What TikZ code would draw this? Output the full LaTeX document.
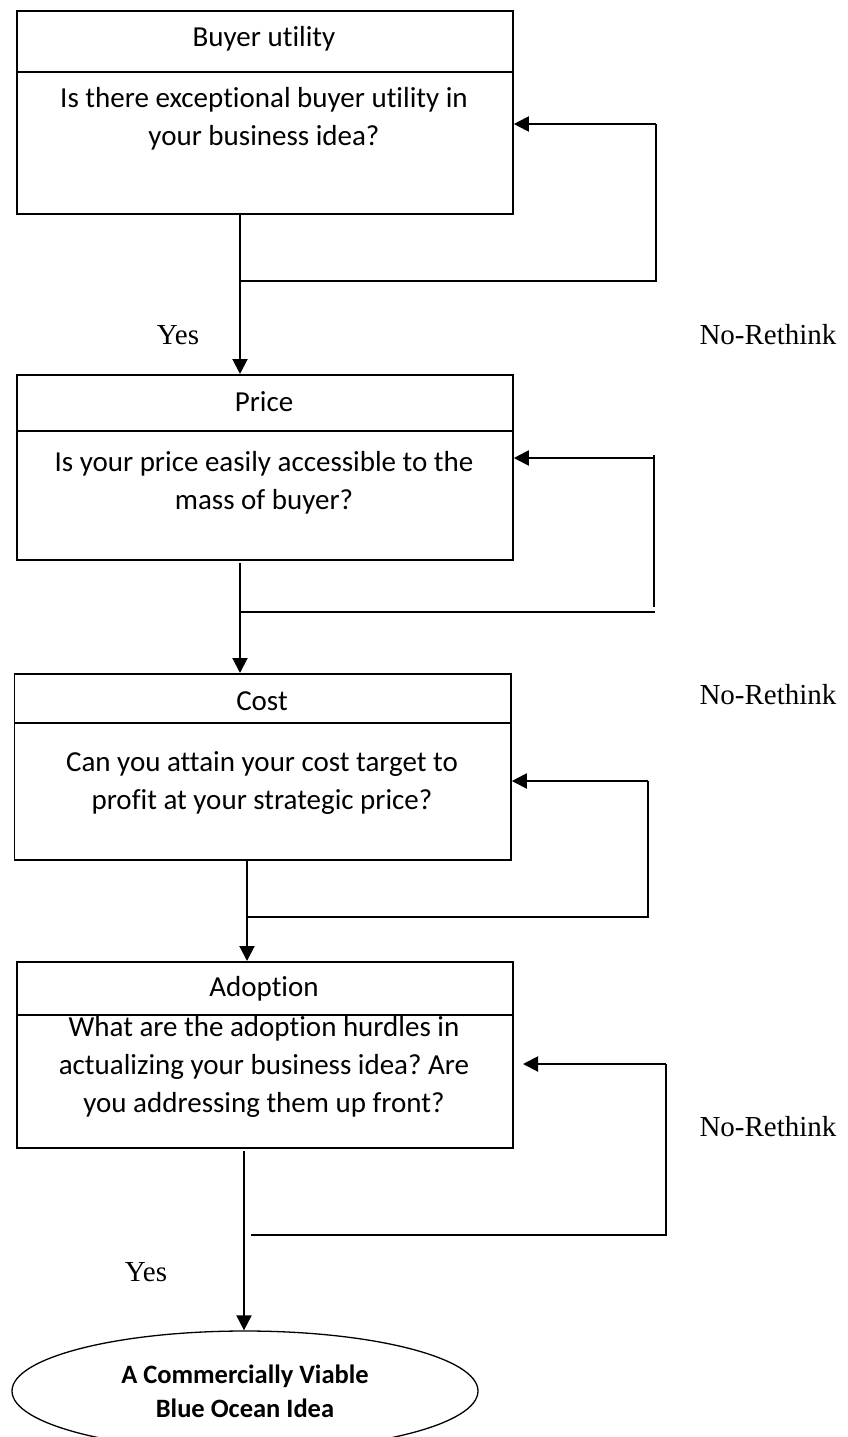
\documentclass[tikz,border=0pt]{standalone}
\usepackage{fontspec}
\setmainfont{Liberation Serif}
\newfontfamily\calibri[Ligatures={NoCommon}]{Carlito}
\usetikzlibrary{arrows.meta,shapes.geometric}
\frenchspacing

\begin{document}
\begin{tikzpicture}[x=1pt,y=-1pt,
  line width=2pt,
  frame/.style={draw, rectangle, line width=1.8pt, inner sep=0pt, anchor=north west},
  headtext/.style={font=\calibri\fontsize{29}{37}\selectfont},
  bodytext/.style={font=\calibri\fontsize{29}{38}\selectfont, align=center, inner sep=0pt},
  lbl/.style={font=\fontsize{29}{34}\selectfont, inner sep=0pt},
  flow/.style={-{Triangle[length=15pt,width=15pt]}},
]
\clip (0,0) rectangle (847,1437);

% ---- Buyer utility ----
\node[frame, minimum width=496pt, minimum height=61pt] (h1) at (16,10) {};
\node[frame, minimum width=496pt, minimum height=142pt] (b1) at (16,71) {};
\node[headtext] (t1) at (264,39) {Buyer utility};
\node[bodytext] (q1) at (264,119) {Is there exceptional buyer utility in\\your business idea?};

% ---- Price ----
\node[frame, minimum width=496pt, minimum height=56pt] (h2) at (16,374) {};
\node[frame, minimum width=496pt, minimum height=129pt] (b2) at (16,430) {};
\node[headtext] (t2) at (264,402) {Price};
\node[bodytext] (q2) at (264,483) {Is your price easily accessible to the\\mass of buyer?};

% ---- Cost ----
\node[frame, minimum width=496.5pt, minimum height=49pt] (h3) at (13.5,673) {};
\node[frame, minimum width=496.5pt, minimum height=137pt] (b3) at (13.5,722) {};
\node[headtext] (t3) at (262,701) {Cost};
\node[bodytext] (q3) at (262,783) {Can you attain your cost target to\\profit at your strategic price?};

% ---- Adoption ----
\node[frame, minimum width=496pt, minimum height=53pt] (h4) at (16,961) {};
\node[frame, minimum width=496pt, minimum height=133pt] (b4) at (16,1014) {};
\node[headtext] (t4) at (264,989) {Adoption};
\node[bodytext] (q4) at (264,1067) {What are the adoption hurdles in\\actualizing your business idea? Are\\you addressing them up front?};

% ---- Outcome ----
\node[draw, ellipse, line width=1.3pt, minimum width=466pt, minimum height=120pt, inner sep=0pt,
      font=\calibri\bfseries\fontsize{26.5}{34}\selectfont, align=center] (e) at (245,1391)
      {A Commercially Viable\\Blue Ocean Idea};

% ---- labels ----
\node[lbl] (y1) at (178,335) {Yes};
\node[lbl] (n1) at (768,335) {No-Rethink};
\node[lbl] (n2) at (768,695) {No-Rethink};
\node[lbl] (n3) at (768,1127) {No-Rethink};
\node[lbl] (y2) at (146,1272) {Yes};

% ---- main flow ----
\coordinate (m1) at (240,281);
\coordinate (m2) at (240,563);
\coordinate (m3) at (247,859);
\coordinate (m4) at (244,1151);
\draw[flow] (m1 |- b1.south) -- (m1 |- h2.north);
\draw[flow] (m2) -- (m2 |- h3.north);
\draw[flow] (m3 |- b3.south) -- (m3 |- h4.north);
\draw[flow] (m4) -- (m4 |- e.north);

% ---- rethink loops ----
\coordinate (r1) at (656,281);
\coordinate (r1t) at (656,124);
\draw (m1) -- (r1) -- (r1t);
\draw[flow] (r1t) -- (r1t -| b1.east);

\coordinate (r2a) at (654,455);
\coordinate (r2b) at (654,607);
\coordinate (r2t) at (654,458);
\coordinate (l2a) at (240,612);
\coordinate (l2b) at (655,612);
\draw (l2a) -- (l2b);
\draw (r2a) -- (r2b);
\draw[flow] (r2t) -- (r2t -| b2.east);

\coordinate (r3t) at (648,781);
\coordinate (r3) at (648,917);
\coordinate (l3) at (247,917);
\draw (l3) -- (r3) -- (r3t);
\draw[flow] (r3t) -- (r3t -| b3.east);

\coordinate (r4t) at (666,1064);
\coordinate (r4) at (666,1235);
\coordinate (l4) at (251,1235);
\coordinate (g4) at (523,1064);
\draw (l4) -- (r4) -- (r4t);
\draw[flow] (r4t) -- (g4);
\end{tikzpicture}
\end{document}
